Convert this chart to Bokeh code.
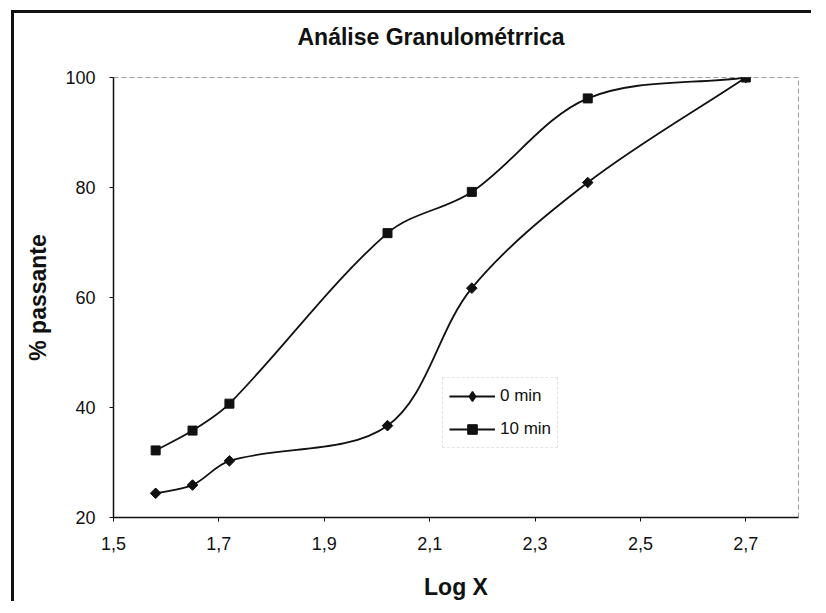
from bokeh.plotting import figure
from bokeh.models import (ColumnDataSource, FixedTicker, CustomJSTickFormatter, Legend,
                          LegendItem, Range1d)
from bokeh.embed import file_html
from bokeh.resources import INLINE
import math

# ---------------- data ----------------
log_x = [1.58, 1.65, 1.72, 2.02, 2.18, 2.40, 2.70]
pass_0min = [24.4, 25.9, 30.3, 36.7, 61.7, 80.9, 100.0]
pass_10min = [32.2, 35.8, 40.7, 71.7, 79.2, 96.2, 100.0]
series_labels = ["0 min", "10 min"]
x_ticks = [1.5, 1.7, 1.9, 2.1, 2.3, 2.5, 2.7]
y_ticks = [20, 40, 60, 80, 100]
title_text = "Análise Granulométrrica"
x_label = "Log X"
y_label = "% passante"

FONT = "Liberation Sans"
X0, X1, Y0, Y1 = 1.5, 2.8, 20, 100
FRAME_W, FRAME_H = 685, 440


def smooth_segments(xs, ys):
    """Cubic Bezier segments through the points (Excel-like smoothed line)."""
    kx = FRAME_W / (X1 - X0)
    ky = FRAME_H / (Y1 - Y0)
    n = len(xs)

    def dist(i, j):
        return math.hypot((xs[j] - xs[i]) * kx, (ys[j] - ys[i]) * ky)

    seg = [dist(i, i + 1) for i in range(n - 1)]
    tx, ty = [], []
    for i in range(n):
        a = max(i - 1, 0)
        b = min(i + 1, n - 1)
        tx.append(xs[b] - xs[a])
        ty.append(ys[b] - ys[a])
    d = dict(x0=[], y0=[], x1=[], y1=[], cx0=[], cy0=[], cx1=[], cy1=[])
    for i in range(n - 1):
        dprev = seg[i - 1] if i > 0 else 0.0
        dnext = seg[i + 1] if i + 1 < n - 1 else 0.0
        w0 = seg[i] / (dprev + seg[i]) / 3.0
        w1 = seg[i] / (seg[i] + dnext) / 3.0
        d["x0"].append(xs[i]); d["y0"].append(ys[i])
        d["x1"].append(xs[i + 1]); d["y1"].append(ys[i + 1])
        d["cx0"].append(xs[i] + tx[i] * w0)
        d["cy0"].append(ys[i] + ty[i] * w0)
        d["cx1"].append(xs[i + 1] - tx[i + 1] * w1)
        d["cy1"].append(ys[i + 1] - ty[i + 1] * w1)
    return ColumnDataSource(d)


p = figure(width=800, height=591, output_backend="svg", toolbar_location=None,
           x_range=Range1d(X0, X1), y_range=Range1d(Y0, Y1),
           min_border_left=99, min_border_right=16, min_border_top=64, min_border_bottom=87,
           background_fill_color="white", border_fill_color="white")
p.styles = {"position": "relative", "left": "11px", "top": "10px",
            "border-left": "3px solid #111111", "border-top": "3px solid #111111"}

p.title.text = title_text
p.title.align = "left"
p.title.offset = 184
p.title.text_font = FONT
p.title.text_font_size = "23px"
p.title.text_font_style = "bold"
p.title.text_color = "#111111"
title_pad_ok = False
if "padding" in p.title.properties():
    try:
        p.title.padding = dict(left=0, right=0, top=0, bottom=26)
        title_pad_ok = True
    except Exception:
        title_pad_ok = False
p.title.standoff = 4 if title_pad_ok else 30

p.xgrid.visible = False
p.ygrid.visible = False
p.outline_line_color = "#9a9a9a"
p.outline_line_dash = "5 3"
p.outline_line_width = 1

for ax in (p.xaxis[0], p.yaxis[0]):
    ax.axis_line_color = "#111111"
    ax.axis_line_width = 1.5
    ax.major_tick_line_color = "#111111"
    ax.major_tick_out = 4
    ax.major_tick_in = 0
    ax.minor_tick_line_color = None
    ax.major_label_text_font = FONT
    ax.major_label_text_font_size = "18px"
    ax.major_label_text_color = "#111111"
    ax.axis_label_text_font = FONT
    ax.axis_label_text_font_size = "23px"
    ax.axis_label_text_font_style = "bold"
    ax.axis_label_text_color = "#111111"

p.xaxis.ticker = FixedTicker(ticks=x_ticks)
p.yaxis.ticker = FixedTicker(ticks=y_ticks)
p.xaxis.formatter = CustomJSTickFormatter(code="return tick.toFixed(1).replace('.', ',');")
p.yaxis.formatter = CustomJSTickFormatter(code="return tick.toFixed(0);")
p.xaxis.major_label_standoff = 15
p.yaxis.major_label_standoff = 14
p.xaxis.axis_label = x_label
p.yaxis.axis_label = y_label
p.xaxis.axis_label_standoff = 21
p.yaxis.axis_label_standoff = 11

# series
src0 = ColumnDataSource(dict(x=log_x, y=pass_0min))
src10 = ColumnDataSource(dict(x=log_x, y=pass_10min))
bz0 = p.bezier(x0="x0", y0="y0", x1="x1", y1="y1", cx0="cx0", cy0="cy0", cx1="cx1", cy1="cy1",
               source=smooth_segments(log_x, pass_0min), line_color="#111111", line_width=1.8)
bz10 = p.bezier(x0="x0", y0="y0", x1="x1", y1="y1", cx0="cx0", cy0="cy0", cx1="cx1", cy1="cy1",
                source=smooth_segments(log_x, pass_10min), line_color="#111111", line_width=1.8)
sc0 = p.scatter("x", "y", source=src0, marker="square", angle=math.pi / 4, size=7.5,
                fill_color="#111111", line_color="#111111")
sc10 = p.scatter("x", "y", source=src10, marker="square", size=9,
                 fill_color="#111111", line_color="#111111")
# legend swatch marker for "0 min" (diamond); drawn under the first data marker
leg0 = p.scatter(x=log_x[:1], y=pass_0min[:1], marker="diamond", size=1,
                 fill_color="#111111", line_color="#111111", line_width=1.5)

legend = Legend(items=[LegendItem(label=series_labels[0], renderers=[bz0, leg0]),
                       LegendItem(label=series_labels[1], renderers=[bz10, sc10])],
                location=(329, 69), orientation="vertical",
                glyph_width=46, glyph_height=24, label_height=24, label_width=40,
                spacing=9, padding=6, margin=0, label_standoff=5,
                label_text_font=FONT, label_text_font_size="17px", label_text_color="#111111",
                border_line_color="#c8c8c8", border_line_dash="2 2", border_line_width=1,
                background_fill_alpha=0)
p.add_layout(legend)

open("out.html", "w").write(file_html(p, INLINE))
